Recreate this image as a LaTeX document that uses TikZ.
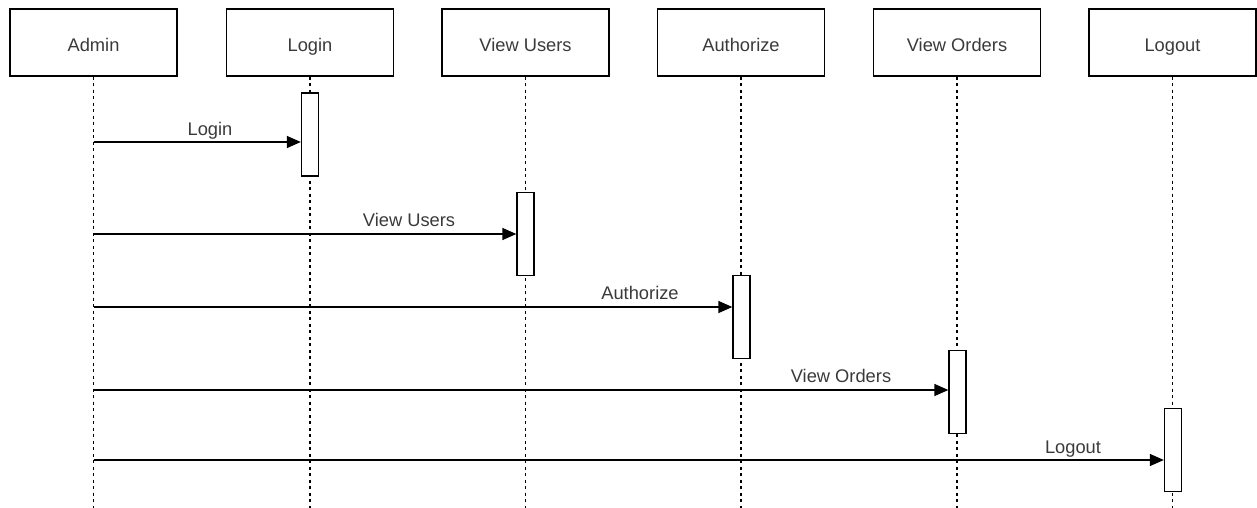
\documentclass[tikz,border=0pt]{standalone}
\usepackage{fontspec}
\setmainfont{Liberation Sans}
\usetikzlibrary{arrows.meta}
\definecolor{txt}{HTML}{3A3A3A}
\begin{document}
\begin{tikzpicture}[x=1pt,y=-1pt,
  head/.style={draw=black,line width=1.3pt,minimum width=167pt,minimum height=67pt,inner sep=0pt,text=txt,font=\fontsize{18.3}{20}\selectfont,text height=22pt,text depth=4pt},
  act/.style={draw=black,line width=1.3pt,fill=white,minimum width=17pt,minimum height=83pt,inner sep=0pt},
  life/.style={draw=black,line width=1.2pt,dash pattern=on 3pt off 3.5pt},
  msg/.style={draw=black,line width=1.3pt,-{Triangle[length=14pt,width=12pt]}},
  lbl/.style={text=txt,font=\fontsize{18.3}{20}\selectfont,inner sep=0pt,text height=13pt,text depth=4pt}]
\useasboundingbox (0,0) rectangle (1257,508);
% heads
\node[head] (admin) at (93.5,42.5) {Admin};
\node[head] (login) at (310,42.5) {Login};
\node[head] (users) at (525.5,42.5) {View Users};
\node[head] (auth) at (741,42.5) {Authorize};
\node[head] (orders) at (957,42.5) {View Orders};
\node[head] (logout) at (1172.5,42.5) {Logout};
% lifelines
\foreach \n in {admin,login,users,auth,orders,logout}
  \draw[life] (\n.south) -- (\n.south |- 0,508);
% activations
\node[act] (a1) at (310,134.5) {};
\node[act] (a2) at (525.5,234) {};
\node[act] (a3) at (741.5,317) {};
\node[act] (a4) at (957.5,392) {};
\node[act] (a5) at (1173,450) {};
% messages
\coordinate (m1) at (93.5,142);
\coordinate (m2) at (93.5,234);
\coordinate (m3) at (93.5,307);
\coordinate (m4) at (93.5,390);
\coordinate (m5) at (93.5,460);
\draw[msg] (m1) -- (m1 -| a1.west);
\draw[msg] (m2) -- (m2 -| a2.west);
\draw[msg] (m3) -- (m3 -| a3.west);
\draw[msg] (m4) -- (m4 -| a4.west);
\draw[msg] (m5) -- (m5 -| a5.west);
% labels
\node[lbl] (l1) at (210,131) {Login};
\node[lbl] (l2) at (409,222) {View Users};
\node[lbl] (l3) at (640,295) {Authorize};
\node[lbl] (l4) at (841,378) {View Orders};
\node[lbl] (l5) at (1073,448.5) {Logout};
\end{tikzpicture}
\end{document}
